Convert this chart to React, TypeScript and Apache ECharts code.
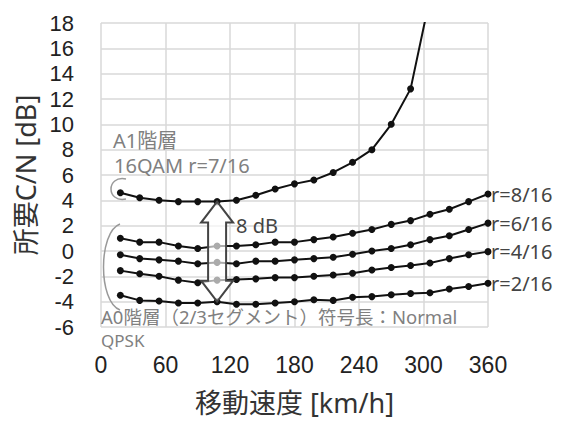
import React, { useEffect, useRef } from "react";
import * as echarts from "echarts";

const speeds = [18, 36, 54, 72, 90, 108, 126, 144, 162, 180, 198, 216, 234, 252, 270, 288, 306, 324, 342, 360];
const a1Speeds = [18, 36, 54, 72, 90, 108, 126, 144, 162, 180, 198, 216, 234, 252, 270, 288, 306];
const a1_r7 = [4.6, 4.2, 4.0, 3.9, 3.9, 3.9, 4.0, 4.4, 4.9, 5.3, 5.6, 6.2, 7.0, 8.0, 10.0, 12.8, 20.0];
const a0_r8 = [1.0, 0.7, 0.7, 0.4, 0.2, 0.4, 0.4, 0.5, 0.7, 0.7, 0.9, 1.1, 1.4, 1.7, 2.1, 2.4, 2.9, 3.3, 3.9, 4.5];
const a0_r6 = [-0.3, -0.6, -0.7, -0.8, -1.0, -0.9, -1.0, -0.8, -0.8, -0.7, -0.6, -0.5, -0.25, 0.0, 0.2, 0.5, 0.9, 1.2, 1.7, 2.2];
const a0_r4 = [-1.55, -1.8, -2.0, -2.3, -2.5, -2.3, -2.25, -2.2, -2.1, -2.1, -2.0, -1.9, -1.75, -1.5, -1.3, -1.15, -0.95, -0.6, -0.3, -0.05];
const a0_r2 = [-3.5, -3.9, -3.95, -4.1, -4.1, -4.0, -4.2, -4.2, -4.1, -4.0, -3.85, -3.9, -3.65, -3.6, -3.45, -3.35, -3.3, -3.0, -2.8, -2.55];
const endLabels = ["r=8/16", "r=6/16", "r=4/16", "r=2/16"];
const arrowSpeed = 108;
const arrowTop = 3.9;
const arrowBottom = -4.0;

const FONT = "'Noto Sans', 'Noto Sans CJK JP', sans-serif";
const TICK_FONT = "'Liberation Sans', Arial, sans-serif";

function pair(xs: number[], ys: number[]) {
  return xs.map((x, i) => [x, ys[i]]);
}

export default function App() {
  const ref = useRef<HTMLDivElement>(null);
  useEffect(() => {
    if (!ref.current) return;
    const chart = echarts.init(ref.current, undefined, { renderer: "svg" });
    const lineStyle = { color: "#111", width: 2 };
    const mkSeries = (data: number[][], label?: string) => ({
      type: "line",
      data,
      symbol: "circle",
      symbolSize: 7,
      itemStyle: { color: "#111" },
      lineStyle,
      clip: true,
      endLabel: label
        ? { show: true, formatter: label, color: "#444", fontSize: 20, fontFamily: FONT, distance: 3 }
        : { show: false },
      z: 3,
    });
    const a0Sets = [a0_r8, a0_r6, a0_r4, a0_r2];
    chart.setOption({
      animation: false,
      grid: { left: 101, right: 75, top: 23, bottom: 98 },
      xAxis: {
        type: "value",
        min: 0,
        max: 360,
        interval: 60,
        name: "移動速度 [km/h]",
        nameLocation: "middle",
        nameGap: 62,
        nameTextStyle: { fontSize: 27, color: "#333", fontFamily: FONT },
        axisLine: { show: false },
        axisTick: { show: false },
        axisLabel: { fontSize: 23, color: "#222", margin: 26, fontFamily: TICK_FONT },
        splitLine: { show: true, lineStyle: { color: "#d9d9d9", width: 1.5 } },
      },
      yAxis: {
        type: "value",
        min: -6,
        max: 18,
        interval: 2,
        name: "所要C/N [dB]",
        nameLocation: "middle",
        nameGap: 61,
        nameTextStyle: { fontSize: 27, color: "#333", fontFamily: FONT },
        axisLine: { show: false },
        axisTick: { show: false },
        axisLabel: { fontSize: 22, color: "#222", margin: 27, fontFamily: TICK_FONT },
        splitLine: { show: true, lineStyle: { color: "#d9d9d9", width: 1.5 } },
      },
      series: [
        mkSeries(pair(a1Speeds, a1_r7)),
        ...a0Sets.map((s, i) => mkSeries(pair(speeds, s), endLabels[i])),
      ],
    });

    const top = chart.convertToPixel({ gridIndex: 0 }, [arrowSpeed, arrowTop]) as number[];
    const bot = chart.convertToPixel({ gridIndex: 0 }, [arrowSpeed, arrowBottom]) as number[];
    const cx = top[0];
    const yt = top[1];
    const yb = bot[1];
    const hh = 21, hw = 16, sw = 9;
    const arrowPts = [
      [cx, yt], [cx + hw, yt + hh], [cx + sw, yt + hh], [cx + sw, yb - hh], [cx + hw, yb - hh],
      [cx, yb], [cx - hw, yb - hh], [cx - sw, yb - hh], [cx - sw, yt + hh], [cx - hw, yt + hh],
    ];
    const annoStyle = { fontSize: 20, fontFamily: FONT, fill: "#808080", textVerticalAlign: "middle" };
    chart.setOption({
      graphic: [
        {
          type: "polygon",
          shape: { points: arrowPts },
          style: { fill: "rgba(255,255,255,0.65)", stroke: "#444", lineWidth: 2 },
          z: 10,
        },
        { type: "text", x: 236, y: 225, style: { ...annoStyle, text: "8 dB", fill: "#444" }, z: 10 },
        { type: "text", x: 113, y: 140, style: { ...annoStyle, text: "A1階層" }, z: 10 },
        { type: "text", x: 114, y: 165, style: { ...annoStyle, text: "16QAM r=7/16" }, z: 10 },
        { type: "text", x: 101, y: 316, style: { ...annoStyle, fontSize: 18.5, text: "A0階層（2/3セグメント）符号長：Normal" }, z: 10 },
        { type: "text", x: 101, y: 340, style: { ...annoStyle, fontSize: 17, text: "QPSK" }, z: 10 },
        {
          type: "bezierCurve",
          shape: { x1: 126, y1: 179, cpx1: 106, cpy1: 175, cpx2: 106, cpy2: 203, x2: 126, y2: 199 },
          style: { stroke: "#999", lineWidth: 1.5, fill: null },
          z: 10,
        },
        {
          type: "bezierCurve",
          shape: { x1: 120, y1: 224, cpx1: 98, cpy1: 232, cpx2: 98, cpy2: 302, x2: 120, y2: 310 },
          style: { stroke: "#999", lineWidth: 1.5, fill: null },
          z: 10,
        },
      ],
    });
    return () => chart.dispose();
  }, []);
  return <div ref={ref} style={{ position: "absolute", left: 0, top: 0, width: 563, height: 425 }} />;
}
